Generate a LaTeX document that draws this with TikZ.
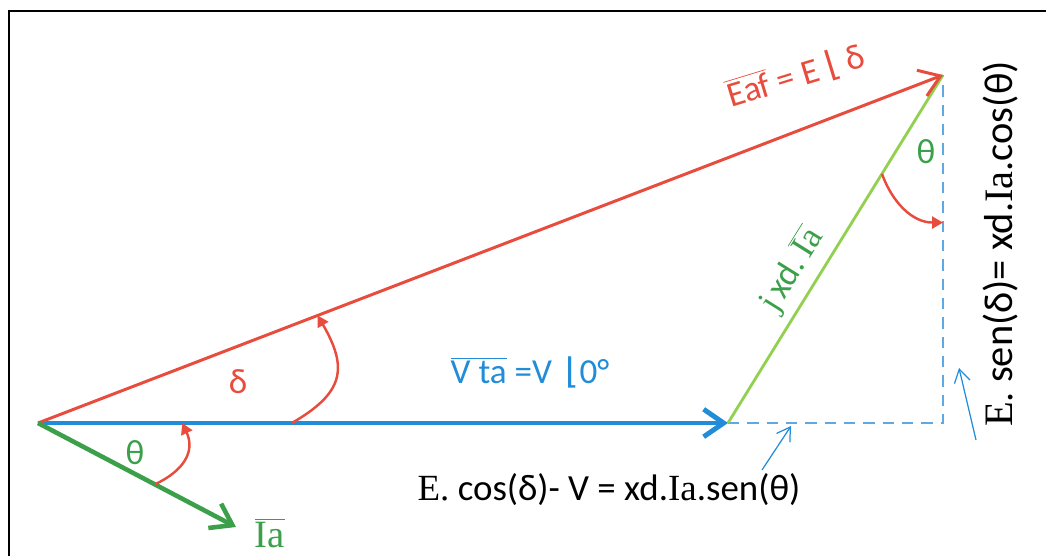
\documentclass[tikz,border=0pt]{standalone}
\usepackage{fontspec}
\setmainfont{Carlito}
\newfontfamily\cambria{Liberation Serif}
\newfontfamily\symbfont{DejaVu Sans}
\usetikzlibrary{arrows.meta, positioning, calc}

\definecolor{eafred}{RGB}{232,76,61}
\definecolor{vtblue}{RGB}{33,140,215}
\definecolor{iagreen}{RGB}{60,160,75}
\definecolor{xdgreen}{RGB}{146,208,80}
\definecolor{dashblue}{RGB}{95,168,226}

\begin{document}
\begin{tikzpicture}[
            >={Straight Barb[length=4mm, width=5.5mm]},
            eaf/.style={draw=eafred, line width=1.7pt, ->},
            vt/.style={draw=vtblue, line width=2.8pt, ->},
            ia/.style={draw=iagreen, line width=2.6pt, ->},
            xd/.style={draw=xdgreen, line width=1.6pt},
            proj/.style={draw=dashblue, line width=1.1pt, dash pattern=on 6.5pt off 4.5pt},
            angle arc/.style={draw=eafred, line width=1.4pt, -{Triangle[length=2.2mm, width=2.4mm]}},
            pointer/.style={draw=vtblue, line width=0.7pt, -{Straight Barb[length=2.6mm, width=3.2mm]}},
            tag/.style={font=\fontsize{20}{22}\selectfont, inner sep=1pt},
            eq/.style={font=\fontsize{21}{24}\selectfont, text=black, inner sep=1pt}
        ]
        \useasboundingbox (0,0) rectangle (20.92,11.1);
        % Frame
        \draw[line width=1.1pt] (0.18,-0.5) |- (21.5,10.88);

        % Phasor end points
        \coordinate (O) at (0.76,2.64);
        \coordinate (V) at (14.56,2.64);
        \coordinate (E) at (18.86,9.6);
        \coordinate (I) at (4.72,0.56);
        \coordinate (C) at (V -| E);

        % Projections
        \draw[proj] (V) -- (C) -- (E);

        % Phasors
        \draw[xd] (V) -- (E);
        \draw[vt] (O) -- (V);
        \draw[eaf] (O) -- (E);
        \draw[ia] (O) -- (I);

        % Angle arcs
        \coordinate (d1) at ($(O)!0.368!(V)$);
        \coordinate (d2) at ($(O)!0.309!(E)$);
        \draw[angle arc] (d1) to[out=30, in=-60, looseness=1.4] (d2);
        \coordinate (t1) at ($(O)!0.59!(I)$);
        \coordinate (t2) at ($(O)!0.209!(V)$);
        \draw[angle arc] (t1) to[out=25, in=-65, looseness=1.2] (t2);
        \coordinate (t3) at ($(V)!0.716!(E)$);
        \coordinate (t4) at ($(C)!0.576!(E)$);
        \draw[angle arc] (t3) to[out=-70, in=180] (t4);

        % Labels
        \node[tag, text=eafred, rotate=17] (eaflbl) at (15.92,9.58) {$\overline{\hbox{Eaf}}$ = E {\symbfont ⌊} δ};
        \node[tag, text=eafred] (delta) at (4.76,3.46) {δ};
        \node[tag, text=vtblue] (vtlbl) at (10.6,3.66) {$\overline{\hbox{V ta}}$ =V \,{\symbfont ⌊}0°};
        \node[tag, text=iagreen] (thetaO) at (2.7,2.04) {θ};
        \node[tag, text=iagreen, font=\fontsize{22}{24}\selectfont] (ialbl) at (5.4,0.44) {$\overline{\hbox{\cambria Ia}}$};
        \node[tag, text=iagreen] (thetaE) at (18.52,8.06) {θ};
        \node[tag, text=iagreen, rotate=58] (xdlbl) at (15.84,5.7) {{\cambria j\,}xd.$\,\overline{\hbox{\cambria Ia}}$};

        % Equations and pointers
        \node[eq] (coseq) at (12.18,1.3) {{\cambria E.} cos(δ)- V = xd.{\cambria Ia}.sen(θ)};
        \node[eq, rotate=90, font=\fontsize{23}{26}\selectfont] (seneq) at (20.02,6.22) {{\cambria E.} sen(δ)= xd.{\cambria Ia}.cos(θ)};
        \coordinate (p1) at (15.24,1.7);
        \coordinate (q1) at (15.82,2.58);
        \draw[pointer] (p1) -- (q1);
        \coordinate (p2) at (19.52,2.3);
        \coordinate (q2) at (19.18,3.74);
        \draw[pointer] (p2) -- (q2);
\end{tikzpicture}
\end{document}
